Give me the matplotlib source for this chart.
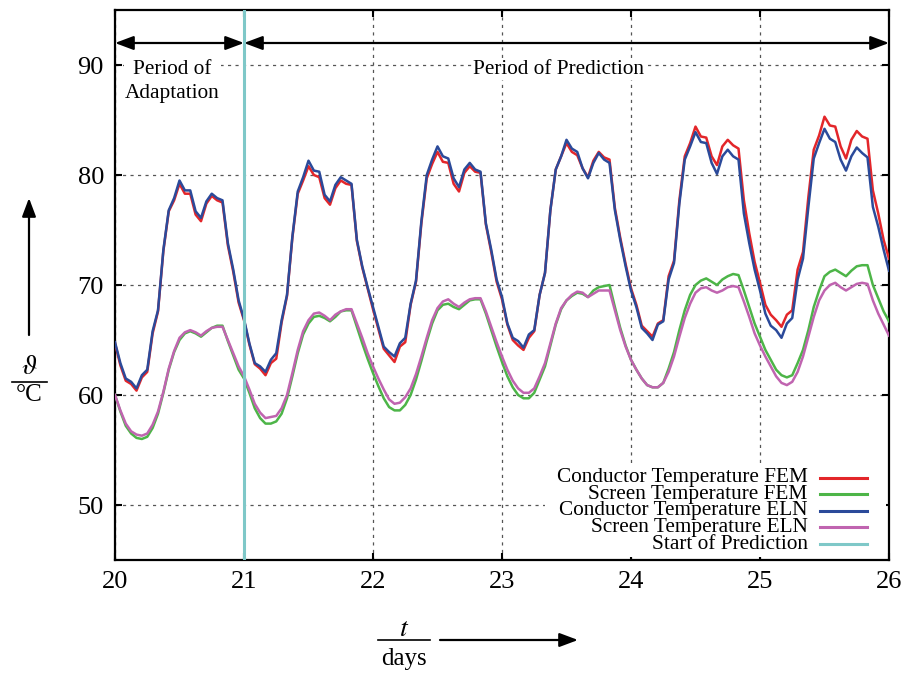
import numpy as np
import matplotlib
matplotlib.use("Agg")
from matplotlib import pyplot as plt
from matplotlib.lines import Line2D
from matplotlib.patches import Rectangle

plt.rcParams['font.family'] = ['Liberation Serif', 'DejaVu Serif']
plt.rcParams['mathtext.fontset'] = 'stix'

# hourly samples, day 20 00:00 ... day 26 00:00
t = 20 + np.arange(145) / 24.0

cond_fem = [
    64.7, 62.7, 61.3, 61.0, 60.4, 61.6, 62.1, 65.6, 67.6, 73.1, 76.7, 77.7, 79.2, 78.3, 78.3, 76.4, 75.8, 77.4, 78.1, 77.7, 77.5, 73.6, 71.2, 68.4,
    66.8, 64.6, 62.8, 62.4, 61.8, 62.9, 63.3, 66.6, 69.0, 74.3, 78.3, 79.5, 80.8, 80.0, 79.8, 77.9, 77.3, 78.8, 79.5, 79.2, 79.1, 74.0, 71.6, 69.7,
    67.8, 66.0, 64.2, 63.6, 63.0, 64.4, 64.8, 68.2, 70.3, 75.6, 79.7, 81.0, 82.1, 81.2, 81.1, 79.2, 78.5, 80.2, 80.8, 80.3, 80.2, 75.5, 73.0, 70.3,
    68.7, 66.4, 65.0, 64.5, 64.1, 65.2, 65.8, 69.1, 71.1, 76.8, 80.5, 81.7, 82.9, 82.1, 81.8, 80.6, 79.8, 81.3, 82.1, 81.6, 81.4, 77.0, 74.3, 71.9,
    69.7, 68.2, 66.3, 65.8, 65.3, 66.5, 66.8, 70.8, 72.2, 77.7, 81.7, 82.9, 84.4, 83.5, 83.4, 81.7, 80.9, 82.6, 83.2, 82.7, 82.4, 77.7, 74.7, 72.1,
    70.2, 68.2, 67.3, 66.8, 66.2, 67.3, 67.7, 71.4, 73.0, 78.0, 82.3, 83.6, 85.3, 84.5, 84.4, 82.6, 81.5, 83.2, 84.0, 83.5, 83.3, 78.6, 76.5, 74.1,
    72.4,
]
screen_fem = [
    60.0, 58.5, 57.2, 56.5, 56.1, 56.0, 56.2, 57.0, 58.3, 60.2, 62.3, 63.9, 65.0, 65.6, 65.8, 65.6, 65.3, 65.7, 66.1, 66.3, 66.3, 64.9, 63.6, 62.3,
    61.5, 60.2, 58.8, 57.9, 57.4, 57.4, 57.6, 58.3, 59.7, 61.7, 63.8, 65.5, 66.5, 67.1, 67.2, 67.0, 66.7, 67.1, 67.6, 67.7, 67.7, 66.2, 64.7, 63.3,
    62.0, 60.8, 59.7, 58.9, 58.6, 58.6, 59.1, 60.0, 61.4, 63.1, 64.9, 66.5, 67.7, 68.2, 68.3, 68.0, 67.8, 68.2, 68.6, 68.7, 68.7, 67.4, 65.9, 64.4,
    63.0, 61.7, 60.7, 60.0, 59.7, 59.7, 60.2, 61.4, 62.6, 64.5, 66.4, 67.8, 68.6, 69.0, 69.3, 69.2, 68.9, 69.5, 69.8, 69.9, 70.0, 68.0, 66.1, 64.5,
    63.2, 62.3, 61.5, 60.9, 60.7, 60.7, 61.1, 62.4, 63.9, 65.9, 67.7, 69.1, 70.0, 70.4, 70.6, 70.3, 70.0, 70.5, 70.8, 71.0, 70.9, 69.5, 68.0, 66.5,
    65.3, 64.1, 63.2, 62.3, 61.8, 61.6, 61.8, 62.9, 64.1, 65.9, 68.0, 69.5, 70.8, 71.2, 71.4, 71.1, 70.8, 71.3, 71.7, 71.8, 71.8, 70.0, 68.8, 67.6,
    66.7,
]
cond_eln = [
    64.8, 62.9, 61.5, 61.2, 60.6, 61.8, 62.3, 65.8, 67.7, 73.2, 76.8, 77.9, 79.5, 78.6, 78.6, 76.7, 76.1, 77.6, 78.3, 77.9, 77.7, 73.8, 71.4, 68.6,
    66.9, 64.7, 62.9, 62.6, 62.1, 63.2, 63.8, 66.8, 69.1, 74.4, 78.5, 79.8, 81.3, 80.4, 80.3, 78.2, 77.6, 79.1, 79.8, 79.5, 79.2, 74.1, 71.7, 69.8,
    68.0, 66.2, 64.4, 63.9, 63.5, 64.7, 65.2, 68.3, 70.4, 75.8, 80.0, 81.4, 82.6, 81.7, 81.5, 79.7, 78.9, 80.5, 81.1, 80.5, 80.3, 75.6, 73.2, 70.5,
    68.9, 66.5, 65.2, 64.9, 64.3, 65.5, 65.9, 69.1, 71.1, 76.8, 80.5, 81.7, 83.2, 82.4, 82.1, 80.6, 79.7, 81.1, 82.0, 81.4, 81.1, 76.8, 74.1, 71.7,
    69.5, 68.0, 66.1, 65.6, 65.0, 66.4, 66.7, 70.5, 72.0, 77.4, 81.4, 82.6, 83.9, 83.0, 82.9, 81.1, 80.1, 81.7, 82.3, 81.7, 81.4, 76.5, 73.8, 71.4,
    69.5, 67.4, 66.3, 65.9, 65.2, 66.5, 67.0, 70.5, 72.4, 77.1, 81.5, 82.9, 84.2, 83.3, 83.0, 81.4, 80.4, 81.7, 82.5, 82.0, 81.6, 77.1, 75.3, 73.2,
    71.3,
]
screen_eln = [
    60.0, 58.6, 57.4, 56.7, 56.4, 56.3, 56.5, 57.3, 58.5, 60.3, 62.4, 64.0, 65.2, 65.7, 65.9, 65.7, 65.4, 65.8, 66.1, 66.2, 66.2, 65.0, 63.8, 62.6,
    61.7, 60.5, 59.2, 58.4, 57.9, 58.0, 58.1, 58.8, 60.0, 62.0, 64.1, 65.8, 66.8, 67.4, 67.5, 67.2, 66.8, 67.3, 67.6, 67.8, 67.8, 66.5, 65.2, 63.8,
    62.6, 61.5, 60.5, 59.6, 59.2, 59.3, 59.8, 60.6, 61.9, 63.5, 65.2, 66.8, 67.9, 68.5, 68.7, 68.3, 68.0, 68.4, 68.7, 68.8, 68.8, 67.6, 66.2, 64.8,
    63.5, 62.3, 61.3, 60.6, 60.2, 60.2, 60.6, 61.7, 62.9, 64.7, 66.5, 67.9, 68.6, 69.1, 69.4, 69.3, 68.9, 69.2, 69.5, 69.5, 69.5, 67.7, 65.9, 64.4,
    63.2, 62.3, 61.5, 60.9, 60.7, 60.7, 61.1, 62.1, 63.5, 65.3, 67.0, 68.3, 69.3, 69.7, 69.8, 69.5, 69.3, 69.5, 69.8, 69.9, 69.8, 68.5, 67.1, 65.6,
    64.5, 63.5, 62.6, 61.7, 61.1, 60.9, 61.2, 62.1, 63.5, 65.3, 67.1, 68.6, 69.5, 70.0, 70.2, 69.8, 69.5, 69.8, 70.1, 70.2, 70.1, 68.6, 67.4, 66.4,
    65.4,
]
t_start = 21.0

labels = ['Conductor Temperature FEM', 'Screen Temperature FEM',
          'Conductor Temperature ELN', 'Screen Temperature ELN',
          'Start of Prediction']
colors = ['#e3262a', '#4db548', '#2b4a9a', '#c064b0', '#7fc8c8']

W, H = 901, 675


def fx(px):
    return px / W


def fy(py):
    return 1 - py / H


fig = plt.figure(figsize=(W / 100, H / 100), dpi=100)
ax = fig.add_axes([fx(115), fy(560), 774 / W, 550 / H])

series = [cond_fem, screen_fem, cond_eln, screen_eln]
for vals, c in zip(series, colors[:4]):
    ax.plot(t, vals, color=c, lw=1.8, zorder=3)
ax.axvline(t_start, color=colors[4], lw=2.2, zorder=3)

ax.set_xlim(20, 26)
ax.set_ylim(45, 95)
ax.set_xticks(range(20, 27))
ax.set_yticks(range(50, 95, 10))
ax.grid(True, color='#555555', ls=(0, (2.5, 3.5)), lw=0.9, zorder=0)
ax.set_axisbelow(True)
ax.tick_params(direction='in', length=5, width=1.5, top=True, right=True,
               labelsize=19, pad=8)
for s in ax.spines.values():
    s.set_linewidth(1.6)

# legend drawn by hand: text first, line after, tight rows
ax.add_patch(Rectangle((0.556, 0.005), 0.44, 0.166, transform=ax.transAxes,
                       facecolor='white', edgecolor='none', zorder=1))
rows = [0.150, 0.120, 0.090, 0.0595, 0.029]
for lab, c, ry in zip(labels, colors, rows):
    ax.text(0.895, ry, lab, transform=ax.transAxes, ha='right', va='center',
            fontsize=15.3, zorder=4)
    ax.add_line(Line2D([0.911, 0.972], [ry, ry], transform=ax.transAxes,
                       color=c, lw=2.2, zorder=4))

# period arrows and labels
arr = dict(arrowstyle='<|-|>,head_length=0.8,head_width=0.3', color='black',
           lw=1.6, shrinkA=0, shrinkB=0, mutation_scale=14)
ax.annotate('', xy=(20, 92.0), xytext=(t_start, 92.0), arrowprops=arr, zorder=5)
ax.annotate('', xy=(t_start, 92.0), xytext=(26, 92.0), arrowprops=arr, zorder=5)
ax.text(20.445, 88.5, 'Period of\nAdaptation', ha='center', va='center',
        fontsize=15.3, linespacing=1.35, zorder=2,
        bbox=dict(facecolor='white', edgecolor='none', pad=1))
ax.text(23.44, 89.6, 'Period of Prediction', ha='center', va='center',
        fontsize=15.3, zorder=2,
        bbox=dict(facecolor='white', edgecolor='none', pad=1))

# axis labels as fractions with arrows
fig.text(fx(29.5), fy(367), r'$\vartheta$', ha='center', va='center', fontsize=20)
fig.add_artist(Line2D([fx(12), fx(47)], [fy(382), fy(382)], color='black', lw=1.2))
fig.text(fx(29.5), fy(395), '°C', ha='center', va='center', fontsize=18)
fig.add_artist(plt.Annotation('', xy=(fx(29), fy(198)), xytext=(fx(29), fy(335)),
                              xycoords='figure fraction', textcoords='figure fraction',
                              arrowprops=dict(arrowstyle='-|>,head_length=0.8,head_width=0.3',
                                              color='black', lw=1.6, shrinkA=0, shrinkB=0,
                                              mutation_scale=14)))

fig.text(fx(404), fy(629), r'$t$', ha='center', va='center', fontsize=20)
fig.add_artist(Line2D([fx(378), fx(430)], [fy(640), fy(640)], color='black', lw=1.2))
fig.text(fx(404), fy(659), 'days', ha='center', va='center', fontsize=18)
fig.add_artist(plt.Annotation('', xy=(fx(578), fy(640)), xytext=(fx(440), fy(640)),
                              xycoords='figure fraction', textcoords='figure fraction',
                              arrowprops=dict(arrowstyle='-|>,head_length=0.8,head_width=0.3',
                                              color='black', lw=1.6, shrinkA=0, shrinkB=0,
                                              mutation_scale=14)))

fig.savefig('out.png', dpi=100)
